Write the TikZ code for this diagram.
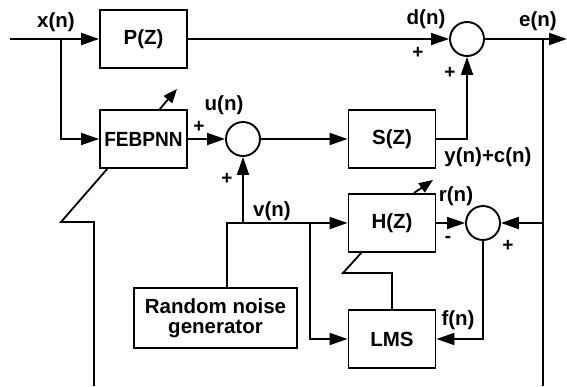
\documentclass[tikz,border=0pt]{standalone}
\usepackage{fontspec}
\setmainfont{Liberation Sans}
\usetikzlibrary{arrows.meta}
\tikzset{
  blk/.style={draw,line width=1.9pt,fill=white,minimum width=87pt,minimum height=58pt,inner sep=0pt,font=\fontsize{20.5}{20}\selectfont\bfseries},
  sumnode/.style={draw,circle,line width=1.9pt,minimum size=34pt,inner sep=0pt},
  sig/.style={inner sep=0pt,font=\fontsize{20.5}{20}\selectfont\bfseries},
  sgn/.style={inner sep=0pt,font=\fontsize{19}{19}\selectfont\bfseries},
  wire/.style={line width=1.8pt},
  arr/.style={wire,-{Triangle[length=18pt,width=12pt]}},
  adj/.style={wire,-{Triangle[length=14pt,width=11pt]}}
}
\begin{document}
\begin{tikzpicture}[x=1pt,y=-1pt]
\useasboundingbox (0,0) rectangle (567,386);
% blocks
\node[blk] (p) at (143.5,39) {P(Z)};
\node[blk] (feb) at (143.5,139) {\scalebox{0.93}[1]{FEBPNN}};
\node[sumnode] (s1) at (243,139) {};
\node[blk] (s) at (392,139) {S(Z)};
\node[sumnode] (s2) at (467,39) {};
\node[blk] (h) at (392,223) {H(Z)};
\node[sumnode] (s3) at (483,223) {};
\node[blk] (lms) at (392,339) {LMS};
\node[blk,minimum width=163pt,minimum height=60pt,align=center] (rng) at (215.5,318) {Random noise\\generator};
% points on the wires
\coordinate (xin) at (10,39);\coordinate (xb) at (61,39);
\coordinate (eb) at (543,39);\coordinate (eout) at (567,39);\coordinate (ebot) at (543,386);\coordinate (e3) at (543,223);
\coordinate (gtop) at (227,288);\coordinate (gv) at (227,223);\coordinate (vj) at (243,223);\coordinate (vb) at (310,223);
\coordinate (fbot) at (94,386);\coordinate (f1) at (94,222);\coordinate (f2) at (61,222);\coordinate (f3) at (108,168);
\coordinate (fa1) at (159,110);\coordinate (fa2) at (177,89);
\coordinate (hl1) at (392,273);\coordinate (hl2) at (343,273);\coordinate (hl3) at (362,252);
\coordinate (ha1) at (414,193);\coordinate (ha2) at (433,180);
% connectors
\draw[wire] (xin)--(xb);\draw[arr] (xb)--(p);\draw[arr] (xb)|-(feb);
\draw[arr] (feb)--(s1);\draw[arr] (s1)--(s);
\draw[arr] (p)--(s2);\draw[arr] (s)-|(s2);
\draw[wire] (s2)--(eb);\draw[arr] (eb)--(eout);\draw[wire] (eb)--(ebot);
\draw[arr] (e3)--(s3);\draw[arr] (h)--(s3);\draw[arr] (s3)|-(lms);
\draw[wire] (gtop)--(gv)--(vb);\draw[arr] (vb)--(h);\draw[arr] (vb)|-(lms);\draw[arr] (vj)--(s1);
\draw[wire] (fbot)--(f1)--(f2)--(f3);\draw[adj] (fa1)--(fa2);
\draw[wire] (lms.north)--(hl1)--(hl2)--(hl3);\draw[adj] (ha1)--(ha2);
% labels
\node[sig] (lx) at (56,22) {x(n)};
\node[sig] (ld) at (426,19) {d(n)};
\node[sig] (le) at (538,21) {e(n)};
\node[sig] (lu) at (224,105) {u(n)};
\node[sig] (ly) at (488,157) {y(n)+c(n)};
\node[sig] (lv) at (272,211) {v(n)};
\node[sig] (lr) at (456,196) {r(n)};
\node[sig] (lf) at (458,320) {f(n)};
\node[sgn] (pl1) at (199,127) {+};
\node[sgn] (pl2) at (227,179) {+};
\node[sgn] (pl3) at (418,53) {+};
\node[sgn] (pl4) at (450,73) {+};
\node[sgn] (mi1) at (448,239) {-};
\node[sgn] (pl5) at (508,246) {+};
\end{tikzpicture}
\end{document}
